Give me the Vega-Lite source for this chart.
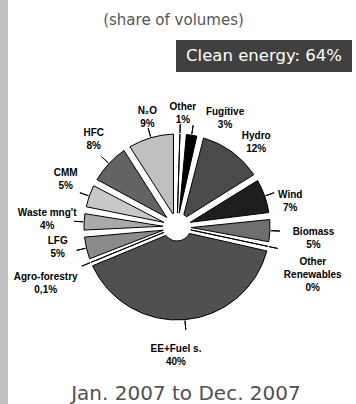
{
  "$schema": "https://vega.github.io/schema/vega-lite/v6.json",
  "padding": 0,
  "background": "white",
  "spacing": 0,
  "config": {"view": {"stroke": null}, "concat": {"spacing": 0}, "text": {"font": "DejaVu Sans"}},
  "datasets": {
    "shares": [
      {"source": "Other", "share": 1, "pct": "1%", "order": 1},
      {"source": "Fugitive", "share": 3, "pct": "3%", "order": 2},
      {"source": "Hydro", "share": 12, "pct": "12%", "order": 3},
      {"source": "Wind", "share": 7, "pct": "7%", "order": 4},
      {"source": "Biomass", "share": 5, "pct": "5%", "order": 5},
      {"source": "Other Renewables", "share": 0.4, "pct": "0%", "order": 6},
      {"source": "EE+Fuel s.", "share": 40, "pct": "40%", "order": 7},
      {"source": "Agro-forestry", "share": 0.1, "pct": "0,1%", "order": 8},
      {"source": "LFG", "share": 5, "pct": "5%", "order": 9},
      {"source": "Waste mng't", "share": 4, "pct": "4%", "order": 10},
      {"source": "CMM", "share": 5, "pct": "5%", "order": 11},
      {"source": "HFC", "share": 8, "pct": "8%", "order": 12},
      {"source": "N₂O", "share": 9, "pct": "9%", "order": 13}
    ]
  },
  "hconcat": [
    {
      "width": 8, "height": 404,
      "view": {"fill": "#c0c0c0", "stroke": null},
      "data": {"values": [{}]},
      "mark": {"type": "text", "text": ""}
    },
    {
      "spacing": 0,
      "vconcat": [
        {
          "width": 331, "height": 40,
          "data": {"values": [{"t": "(share of volumes)"}]},
          "mark": {"type": "text", "fontSize": 15, "color": "#555555", "font": "DejaVu Sans"},
          "encoding": {"text": {"field": "t"}}
        },
        {
          "spacing": 0,
          "hconcat": [
            {
              "width": 168, "height": 32,
              "data": {"values": [{}]},
              "mark": {"type": "text", "text": ""}
            },
            {
              "width": 176, "height": 32,
              "view": {"fill": "#404040", "stroke": null},
              "data": {"values": [{"t": "Clean energy: 64%"}]},
              "mark": {"type": "text", "fontSize": 16.5, "color": "white", "font": "DejaVu Sans"},
              "encoding": {"text": {"field": "t"}}
            }
          ]
        },
        {
          "width": 338, "height": 310,
          "data": {"name": "shares"},
          "transform": [
            {"stack": "share", "groupby": [], "sort": [{"field": "order"}], "offset": "normalize", "as": ["s0", "s1"]},
            {"calculate": "(datum.s0 + datum.s1) / 2", "as": "mid"},
            {"calculate": "datum.source == 'Other Renewables' ? ['Other', 'Renewables', datum.pct] : [datum.source, datum.pct]", "as": "lbl"}
          ],
          "layer": [
            {
              "mark": {"type": "arc", "outerRadius": 93, "innerRadius": 14, "padAngle": 0.075, "stroke": "black", "strokeWidth": 1},
              "encoding": {
                "theta": {"field": "s0", "type": "quantitative", "stack": null, "scale": {"domain": [0, 1], "nice": false}},
                "theta2": {"field": "s1"},
                "color": {
                  "field": "source", "type": "nominal", "legend": null,
                  "scale": {
                    "domain": ["Other", "Fugitive", "Hydro", "Wind", "Biomass", "Other Renewables", "EE+Fuel s.", "Agro-forestry", "LFG", "Waste mng't", "CMM", "HFC", "N₂O"],
                    "range": ["#ffffff", "#000000", "#4a4a4a", "#1e1e1e", "#6e6e6e", "#ffffff", "#505050", "#ffffff", "#8a8a8a", "#a9a9a9", "#c8c8c8", "#636363", "#c0c0c0"]
                  }
                }
              }
            },
            {
              "transform": [{"filter": {"field": "source", "oneOf": ["Other", "Fugitive", "Wind", "Biomass", "Other Renewables", "EE+Fuel s.", "Agro-forestry", "LFG", "Waste mng't", "CMM", "HFC", "N₂O"]}}],
              "mark": {"type": "arc", "outerRadius": 103, "innerRadius": 94, "stroke": "black", "strokeWidth": 1, "fill": null},
              "encoding": {
                "theta": {"field": "mid", "type": "quantitative", "stack": null, "scale": {"domain": [0, 1], "nice": false}},
                "theta2": {"field": "mid"}
              }
            },
            {
              "transform": [{"filter": {"field": "source", "oneOf": ["Hydro", "Wind"]}}],
              "mark": {"type": "text", "radius": 116, "thetaOffset": 0.12, "dy": -6.5, "font": "Liberation Sans", "fontWeight": "bold", "fontSize": 10, "lineHeight": 13, "color": "black"},
              "encoding": {"theta": {"field": "mid", "type": "quantitative", "stack": null, "scale": {"domain": [0, 1], "nice": false}}, "text": {"field": "lbl"}}
            },
            {
              "transform": [{"filter": {"field": "source", "oneOf": ["CMM", "HFC", "LFG"]}}],
              "mark": {"type": "text", "radius": 121, "thetaOffset": 0.062, "dy": -6.5, "font": "Liberation Sans", "fontWeight": "bold", "fontSize": 10, "lineHeight": 13, "color": "black"},
              "encoding": {"theta": {"field": "mid", "type": "quantitative", "stack": null, "scale": {"domain": [0, 1], "nice": false}}, "text": {"field": "lbl"}}
            },
            {
              "transform": [{"filter": {"field": "source", "oneOf": ["Other", "N₂O"]}}],
              "mark": {"type": "text", "radius": 113.5, "thetaOffset": 0.02, "dy": -6.5, "font": "Liberation Sans", "fontWeight": "bold", "fontSize": 10, "lineHeight": 13, "color": "black"},
              "encoding": {"theta": {"field": "mid", "type": "quantitative", "stack": null, "scale": {"domain": [0, 1], "nice": false}}, "text": {"field": "lbl"}}
            },
            {
              "transform": [{"filter": {"field": "source", "oneOf": ["Fugitive"]}}],
              "mark": {"type": "text", "radius": 119, "thetaOffset": 0.258, "dy": -6.5, "font": "Liberation Sans", "fontWeight": "bold", "fontSize": 10, "lineHeight": 13, "color": "black"},
              "encoding": {"theta": {"field": "mid", "type": "quantitative", "stack": null, "scale": {"domain": [0, 1], "nice": false}}, "text": {"field": "lbl"}}
            },
            {
              "transform": [{"filter": {"field": "source", "oneOf": ["Biomass"]}}],
              "mark": {"type": "text", "radius": 137, "thetaOffset": 0.047, "dy": -6.5, "font": "Liberation Sans", "fontWeight": "bold", "fontSize": 10, "lineHeight": 13, "color": "black"},
              "encoding": {"theta": {"field": "mid", "type": "quantitative", "stack": null, "scale": {"domain": [0, 1], "nice": false}}, "text": {"field": "lbl"}}
            },
            {
              "transform": [{"filter": {"field": "source", "oneOf": ["Waste mng't"]}}],
              "mark": {"type": "text", "radius": 130, "thetaOffset": 0.0, "dy": -6.5, "font": "Liberation Sans", "fontWeight": "bold", "fontSize": 10, "lineHeight": 13, "color": "black"},
              "encoding": {"theta": {"field": "mid", "type": "quantitative", "stack": null, "scale": {"domain": [0, 1], "nice": false}}, "text": {"field": "lbl"}}
            },
            {
              "transform": [{"filter": {"field": "source", "oneOf": ["EE+Fuel s."]}}],
              "mark": {"type": "text", "radius": 129, "thetaOffset": 0.093, "dy": -6.5, "font": "Liberation Sans", "fontWeight": "bold", "fontSize": 10, "lineHeight": 13, "color": "black"},
              "encoding": {"theta": {"field": "mid", "type": "quantitative", "stack": null, "scale": {"domain": [0, 1], "nice": false}}, "text": {"field": "lbl"}}
            },
            {
              "transform": [{"filter": {"field": "source", "oneOf": ["Other Renewables"]}}],
              "mark": {"type": "text", "radius": 144, "thetaOffset": 0.13, "dy": -13, "font": "Liberation Sans", "fontWeight": "bold", "fontSize": 10, "lineHeight": 13, "color": "black"},
              "encoding": {"theta": {"field": "mid", "type": "quantitative", "stack": null, "scale": {"domain": [0, 1], "nice": false}}, "text": {"field": "lbl"}}
            },
            {
              "transform": [{"filter": {"field": "source", "oneOf": ["Agro-forestry"]}}],
              "mark": {"type": "text", "radius": 143, "thetaOffset": -0.017, "dy": -6.5, "font": "Liberation Sans", "fontWeight": "bold", "fontSize": 10, "lineHeight": 13, "color": "black"},
              "encoding": {"theta": {"field": "mid", "type": "quantitative", "stack": null, "scale": {"domain": [0, 1], "nice": false}}, "text": {"field": "lbl"}}
            }
          ]
        },
        {
          "width": 348, "height": 22,
          "data": {"values": [{"t": "Jan. 2007 to Dec. 2007"}]},
          "mark": {"type": "text", "fontSize": 20, "color": "#505050", "font": "DejaVu Sans", "dx": 4, "dy": 1},
          "encoding": {"text": {"field": "t"}}
        }
      ]
    }
  ]
}
